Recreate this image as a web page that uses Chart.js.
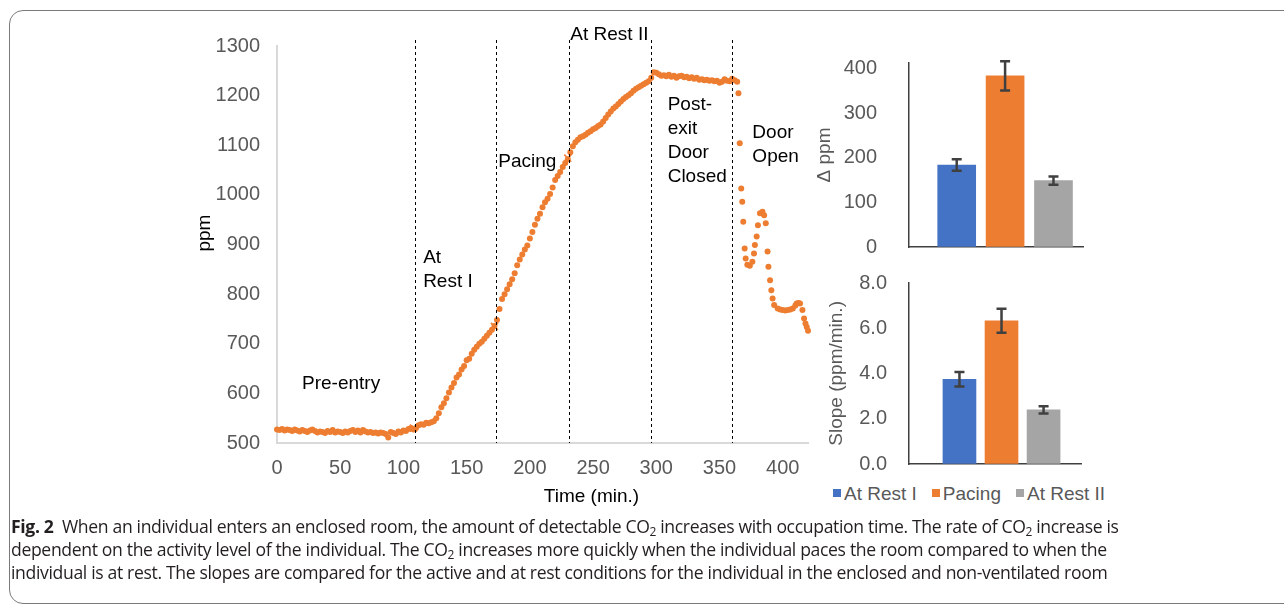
<!DOCTYPE html>
<html lang="en">
<head>
<meta charset="UTF-8">
<title>CO2 and occupation time</title>
<style>
  body { margin:0; width:1284px; height:607px; background:#fff; overflow:hidden; position:relative;
         font-family:"Liberation Sans", Arial, sans-serif; }
  .frame { position:absolute; left:9px; top:10px; width:1300px; height:592px;
           border:1.5px solid #7a7a7a; border-radius:14px; }
  canvas { position:absolute; }
  #mainChart { left:180px; top:20px; }
  #deltaChart { left:800px; top:40px; }
  #slopeChart { left:800px; top:265px; }
  .legend { position:absolute; left:833px; top:483px; font-size:19px; color:#595959; white-space:nowrap; }
  .legend .sw { display:inline-block; width:8px; height:8px; margin-right:3px; vertical-align:3px; }
  .legend .item { margin-right:15px; }
  .caption { position:absolute; left:11px; top:515px; font-family:"Open Sans", sans-serif; font-size:17.6px;
             line-height:23px; color:#231f20; white-space:nowrap; letter-spacing:-0.35px; }
  .caption sub { font-size:12px; vertical-align:-3px; line-height:0; }
</style>
</head>
<body>
<div class="frame"></div>
<canvas id="mainChart" width="640" height="500"></canvas>
<canvas id="deltaChart" width="290" height="215"></canvas>
<canvas id="slopeChart" width="290" height="215"></canvas>
<div class="legend" id="legend"></div>
<div class="caption">
  <b>Fig. 2</b>&nbsp; When an individual enters an enclosed room, the amount of detectable CO<sub>2</sub> increases with occupation time. The rate of CO<sub>2</sub> increase is<br>
  dependent on the activity level of the individual. The CO<sub>2</sub> increases more quickly when the individual paces the room compared to when the<br>
  individual is at rest. The slopes are compared for the active and at rest conditions for the individual in the enclosed and non-ventilated room
</div>

<script src="https://cdn.jsdelivr.net/npm/chart.js"></script>
<script>
// CO2 readings: [time (min.), ppm]
const co2Readings = [
  [0,527],[2,526],[4,528],[6,525],[8,527],[10,526],[12,524],[14,527],[16,525],[18,523],
  [20,526],[22,524],[24,522],[26,525],[28,527],[30,524],[32,521],[34,523],[36,522],[38,520],
  [40,524],[42,522],[44,526],[46,521],[48,523],[50,522],[52,520],[54,523],[56,521],[58,524],
  [60,526],[62,522],[64,525],[66,521],[68,526],[70,523],[72,521],[74,522],[76,520],[78,521],
  [80,519],[82,521],[84,520],[86,518],[88,511],[90,522],[92,520],[94,518],[96,523],[98,521],
  [100,525],[102,524],[104,528],[106,530],[108,527],
  [110,530],[112,536],[114,538],[116,537],[118,541],[120,540],[122,542],[124,544],[126,550],[128,560],
  [130,572],[132,580],[134,590],[136,602],[138,612],[140,621],[142,632],[144,638],[146,648],[148,655],
  [150,667],[152,670],[154,680],[156,688],[158,694],[160,700],[162,704],[164,710],[166,716],[168,722],
  [170,728],[172,736],
  [174,748],[176,770],[178,790],[180,800],[182,810],[184,820],[186,830],[188,842],[190,858],[192,870],
  [194,880],[196,890],[198,898],[200,912],[202,925],[204,940],[206,952],[208,962],[210,975],[212,985],
  [214,992],[216,1002],[218,1015],[220,1030],[222,1038],[224,1046],[226,1056],[228,1064],[230,1072],
  [232,1086],[234,1098],[236,1106],[238,1111],[240,1116],[242,1118],[244,1121],[246,1125],[248,1128],[250,1132],
  [252,1135],[254,1139],[256,1142],[258,1148],[260,1155],[262,1162],[264,1168],[266,1174],[268,1178],[270,1183],
  [272,1188],[274,1193],[276,1197],[278,1201],[280,1205],[282,1210],[284,1214],[286,1217],[288,1220],[290,1223],
  [292,1226],[294,1229],
  [296,1236],[298,1247],[300,1246],[302,1243],[304,1240],[306,1241],[308,1239],[310,1242],[312,1238],[314,1240],
  [316,1236],[318,1239],[320,1240],[322,1237],[324,1238],[326,1235],[328,1237],[330,1234],[332,1236],[334,1232],
  [336,1233],[338,1231],[340,1232],[342,1230],[344,1231],[346,1229],[348,1230],[350,1226],[352,1228],[354,1233],
  [356,1230],[358,1229],[360,1234],[362,1231],[364,1228],
  [365,1205],[366,1104],[367.2,1013],[368,986],[368.8,946],[369.9,892],[370.7,872],[372,859],[374,857],[376,865],
  [377.3,882],[378,899],[379.4,916],[380.4,939],[382,963],[384,966],[385.3,959],[386.6,943],[388,886],[388.7,855],
  [390,828],[391,808],[392,791],[393.2,778],[396,771],[398,769],[400,768],[402,767],[404,768],[406,769],
  [408,771],[410,777],[411,781],[412.5,782],[413.7,781],[415.6,768],[416.9,751],[418,741],[419,734],[420,726],
  [420.8,718]
];
// small cross marks where one phase hands over to the next
const phaseMarks = [[108,530],[172,735],[230,1074]];
// phase boundaries (min.)
const phaseBounds = [109, 173, 231, 296, 360];
const timeTicks = [0, 50, 100, 150, 200, 250, 300, 350, 400];
const ppmTicks = [500, 600, 700, 800, 900, 1000, 1100, 1200, 1300];

const barCategories = ['At Rest I', 'Pacing', 'At Rest II'];
const deltaPpm = [184, 384, 149];
const deltaErr = [13, 33, 9];
const deltaTicks = [0, 100, 200, 300, 400];
const slopeVals = [3.76, 6.36, 2.40];
const slopeErr = [0.32, 0.53, 0.16];
const slopeTicks = [0, 2, 4, 6, 8];

const orange = '#ED7D31';
const barColors = ['#4472C4', '#ED7D31', '#A5A5A5'];
const tickGray = '#595959';

Chart.defaults.font.family = '"Liberation Sans", Arial, sans-serif';

const phaseNotes = [
  { t: 19.8, ppm: 619, lines: ['Pre-entry'] },
  { t: 115.6, ppm: 873, lines: ['At', 'Rest I'] },
  { t: 175, ppm: 1067, lines: ['Pacing'] },
  { t: 232, ppm: 1322, lines: ['At Rest II'] },
  { t: 309, ppm: 1181, lines: ['Post-', 'exit', 'Door', 'Closed'] },
  { t: 376, ppm: 1125, lines: ['Door', 'Open'] }
];

// keep the chart area where it is set, whatever the tick labels ask for
const noPad = s => { s.paddingTop = 0; s.paddingBottom = 0; s.paddingLeft = 0; s.paddingRight = 0; };
const fixTicks = vals => s => { s.ticks = vals.map(v => ({ value: v })); };

const phasePlugin = {
  id: 'phases',
  afterDatasetsDraw(chart) {
    const { ctx, chartArea, scales: { x, y } } = chart;
    ctx.save();
    ctx.strokeStyle = '#000';
    ctx.lineWidth = 1;
    ctx.setLineDash([3, 3]);
    phaseBounds.forEach(t => {
      const px = Math.round(x.getPixelForValue(t)) + 0.5;
      ctx.beginPath();
      ctx.moveTo(px, chartArea.top - 6);
      ctx.lineTo(px, chartArea.bottom);
      ctx.stroke();
    });
    ctx.setLineDash([]);
    ctx.fillStyle = '#000';
    ctx.font = '19px "Liberation Sans", Arial, sans-serif';
    ctx.textBaseline = 'middle';
    ctx.textAlign = 'left';
    phaseNotes.forEach(n => {
      const px = x.getPixelForValue(n.t), py = y.getPixelForValue(n.ppm);
      n.lines.forEach((line, i) => ctx.fillText(line, px, py + i * 24));
    });
    // axis titles
    ctx.textAlign = 'center';
    ctx.fillText('Time (min.)', x.getPixelForValue(248.7), chartArea.bottom + 54);
    ctx.translate(chartArea.left - 72, y.getPixelForValue(923));
    ctx.rotate(-Math.PI / 2);
    ctx.fillText('ppm', 0, 0);
    ctx.restore();
  }
};

new Chart(document.getElementById('mainChart'), {
  type: 'scatter',
  data: {
    datasets: [{
      data: co2Readings.map(([t, v]) => ({ x: t, y: v })),
      backgroundColor: orange,
      borderWidth: 0,
      pointRadius: 3,
      pointHoverRadius: 3,
      clip: false
    }, {
      data: phaseMarks.map(([t, v]) => ({ x: t, y: v })),
      pointStyle: 'crossRot',
      borderColor: orange,
      borderWidth: 1.5,
      pointRadius: 5,
      clip: false
    }]
  },
  options: {
    responsive: false,
    animation: false,
    layout: { padding: { top: 26, right: 12, left: 0, bottom: 0 } },
    plugins: { legend: { display: false }, tooltip: { enabled: false } },
    scales: {
      x: {
        type: 'linear', min: 0, max: 420,
        afterFit: s => { noPad(s); s.height = 77; },
        afterBuildTicks: fixTicks(timeTicks),
        ticks: { padding: 13, color: tickGray, font: { size: 20 }, maxRotation: 0, callback: v => v },
        grid: { drawOnChartArea: false, drawTicks: false },
        border: { color: '#d9d9d9', width: 2 }
      },
      y: {
        min: 500, max: 1300,
        afterFit: s => { noPad(s); s.width = 97; },
        afterBuildTicks: fixTicks(ppmTicks),
        ticks: { padding: 17, color: tickGray, font: { size: 20 }, callback: v => v },
        grid: { drawOnChartArea: false, drawTicks: false },
        border: { color: '#d9d9d9', width: 2 }
      }
    }
  },
  plugins: [phasePlugin]
});

const errorBars = {
  id: 'errorBars',
  afterDatasetsDraw(chart, args, opts) {
    const { ctx, scales: { y } } = chart;
    const meta = chart.getDatasetMeta(0);
    const vals = chart.data.datasets[0].data;
    ctx.save();
    ctx.strokeStyle = '#404040';
    ctx.lineWidth = 2.5;
    meta.data.forEach((bar, i) => {
      const top = y.getPixelForValue(vals[i].y + opts.err[i]);
      const bot = y.getPixelForValue(vals[i].y - opts.err[i]);
      ctx.beginPath();
      ctx.moveTo(bar.x, top); ctx.lineTo(bar.x, bot);
      ctx.moveTo(bar.x - 5, top); ctx.lineTo(bar.x + 5, top);
      ctx.moveTo(bar.x - 5, bot); ctx.lineTo(bar.x + 5, bot);
      ctx.stroke();
    });
    ctx.restore();
  }
};

function barChart(id, values, errs, ticks, cfg) {
  return new Chart(document.getElementById(id), {
    type: 'bar',
    data: {
      datasets: [{
        data: values.map((v, i) => ({ x: i + 1, y: v })),
        backgroundColor: barColors,
        barThickness: cfg.thickness
      }]
    },
    options: {
      responsive: false,
      animation: false,
      layout: { padding: cfg.padding },
      plugins: { legend: { display: false }, tooltip: { enabled: false }, errorBars: { err: errs } },
      scales: {
        x: {
          type: 'linear', min: cfg.xMin, max: cfg.xMax, offset: false,
          afterFit: s => { noPad(s); s.height = 0; },
          ticks: { display: false },
          grid: { drawOnChartArea: false, drawTicks: false },
          border: { color: '#404040', width: 1.5 }
        },
        y: {
          min: 0, max: cfg.yMax,
          afterFit: s => { noPad(s); s.width = cfg.yWidth; },
          afterBuildTicks: fixTicks(ticks),
          ticks: { padding: cfg.tickPad, color: tickGray, font: { size: 20 }, callback: cfg.fmt },
          grid: { drawOnChartArea: false, drawTicks: false },
          border: { color: '#404040', width: 1.5 },
          title: { display: true, text: cfg.title, color: tickGray, font: { size: 19 }, padding: { top: cfg.titlePad, bottom: 0 } }
        }
      }
    },
    plugins: [errorBars]
  });
}

barChart('deltaChart', deltaPpm, deltaErr, deltaTicks, {
  thickness: 38, xMin: 0.014, xMax: 3.61, yMax: 413, yWidth: 109, tickPad: 32, titlePad: 13.6,
  padding: { top: 23, right: 7, bottom: 8, left: 0 }, title: 'Δ ppm', fmt: v => v
});
barChart('slopeChart', slopeVals, slopeErr, slopeTicks, {
  thickness: 33, xMin: -0.2, xMax: 3.89, yMax: 8.05, yWidth: 109, tickPad: 22, titlePad: 25.6,
  padding: { top: 17.7, right: 9, bottom: 16, left: 0 }, title: 'Slope (ppm/min.)', fmt: v => v.toFixed(1)
});

document.getElementById('legend').innerHTML = barCategories.map((c, i) =>
  `<span class="item"><span class="sw" style="background:${barColors[i]}"></span>${c}</span>`).join('');
</script>
</body>
</html>
